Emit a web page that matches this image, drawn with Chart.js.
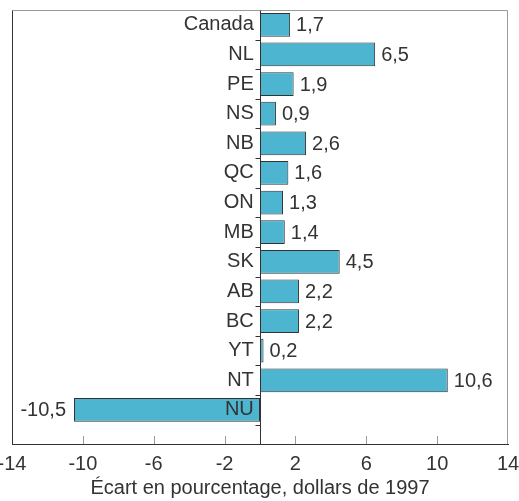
<!DOCTYPE html>
<html lang="fr">
<head>
    <meta charset="UTF-8">
    <title>Écart en pourcentage, dollars de 1997</title>
    <style>
        html, body {
            margin: 0;
            padding: 0;
            background: #fff;
        }
        #wrap {
            width: 519px;
            height: 501px;
        }
    </style>
    <script src="https://cdn.jsdelivr.net/npm/chart.js"></script>
</head>
<body>
    <div id="wrap"><canvas id="gapChart" width="519" height="501"></canvas></div>
    <script>
        const regions = ['Canada', 'NL', 'PE', 'NS', 'NB', 'QC', 'ON', 'MB', 'SK', 'AB', 'BC', 'YT', 'NT', 'NU'];
        const gaps = [1.7, 6.5, 1.9, 0.9, 2.6, 1.6, 1.3, 1.4, 4.5, 2.2, 2.2, 0.2, 10.6, -10.5];
        const xTicks = [-14, -10, -6, -2, 2, 6, 10, 14];

        const ink = '#333333';
        const light = '#9a9a9a';
        const font = { family: "'Liberation Sans', Arial, sans-serif", size: 20 };

        function fmt(v) {
            return v.toFixed(1).replace('.', ',');
        }

        // frame, zero line, inner tick marks and the value next to each bar
        const extras = {
            id: 'extras',
            afterDraw(chart) {
                const { ctx, chartArea: a, scales: { x, y } } = chart;
                const left = Math.round(a.left) + 0.5;
                const right = Math.round(a.right) - 0.5;
                const top = Math.round(a.top) + 0.5;
                const bottom = Math.round(a.bottom);
                const x0 = Math.round(x.getPixelForValue(0)) + 0.5;

                ctx.save();
                ctx.lineWidth = 1;

                ctx.strokeStyle = light;
                ctx.beginPath();
                ctx.moveTo(left, top);
                ctx.lineTo(right, top);
                ctx.lineTo(right, bottom);
                for (const v of xTicks.slice(1, -1)) {
                    const px = Math.round(x.getPixelForValue(v)) + 0.5;
                    ctx.moveTo(px, bottom);
                    ctx.lineTo(px, bottom - 8);
                }
                ctx.stroke();

                ctx.strokeStyle = ink;
                ctx.beginPath();
                ctx.moveTo(left, top);
                ctx.lineTo(left, bottom);
                ctx.moveTo(x0, top);
                ctx.lineTo(x0, bottom);
                for (let i = 0; i < regions.length; i++) {
                    const py = Math.round(y.getPixelForValue(i + 0.5)) + 0.5;
                    ctx.moveTo(x0 - 5, py);
                    ctx.lineTo(x0, py);
                }
                ctx.stroke();

                ctx.fillStyle = ink;
                ctx.font = font.size + 'px ' + font.family;
                ctx.textBaseline = 'middle';
                chart.getDatasetMeta(0).data.forEach((bar, i) => {
                    const v = gaps[i];
                    if (v < 0) {
                        ctx.textAlign = 'right';
                        ctx.fillText(fmt(v), bar.x - 8, bar.y + 1);
                    } else {
                        ctx.textAlign = 'left';
                        ctx.fillText(fmt(v), bar.x + 6, bar.y + 1);
                    }
                });
                ctx.restore();
            }
        };

        new Chart(document.getElementById('gapChart'), {
            type: 'bar',
            data: {
                datasets: [{
                    data: gaps.map((v, i) => ({ x: v, y: i })),
                    backgroundColor: '#4db5cf',
                    borderColor: ink,
                    borderWidth: 1,
                    borderSkipped: false,
                    categoryPercentage: 0.8,
                    barPercentage: 1
                }]
            },
            options: {
                responsive: false,
                animation: false,
                indexAxis: 'y',
                layout: { padding: { left: 12, right: 11, top: 8, bottom: 0 } },
                plugins: {
                    legend: { display: false },
                    tooltip: { enabled: false }
                },
                scales: {
                    x: {
                        type: 'linear',
                        min: -14,
                        max: 14,
                        afterBuildTicks: s => { s.ticks = xTicks.map(v => ({ value: v })); },
                        afterFit: s => {
                            s.height = 57;
                            // end labels may hang past the frame, as in the original
                            s.paddingLeft = 0;
                            s.paddingRight = 0;
                        },
                        grid: { display: false, drawTicks: false },
                        border: { display: true, color: ink, width: 1 },
                        ticks: { color: ink, font: font, padding: 8, maxRotation: 0 },
                        title: {
                            display: true,
                            text: 'Écart en pourcentage, dollars de 1997',
                            color: ink,
                            font: font,
                            padding: { top: 0, bottom: 1 }
                        }
                    },
                    y: {
                        type: 'linear',
                        reverse: true,
                        offset: false,
                        min: -0.5,
                        max: 14.15,
                        position: { x: -0.35 },
                        afterBuildTicks: s => { s.ticks = regions.map((_, i) => ({ value: i })); },
                        grid: { display: false, drawTicks: false, offset: false },
                        border: { display: false },
                        ticks: {
                            z: 1,
                            color: ink,
                            font: { family: font.family, size: font.size, lineHeight: 0.7 },
                            callback: v => regions[v]
                        }
                    }
                }
            },
            plugins: [extras]
        });
    </script>
</body>
</html>
